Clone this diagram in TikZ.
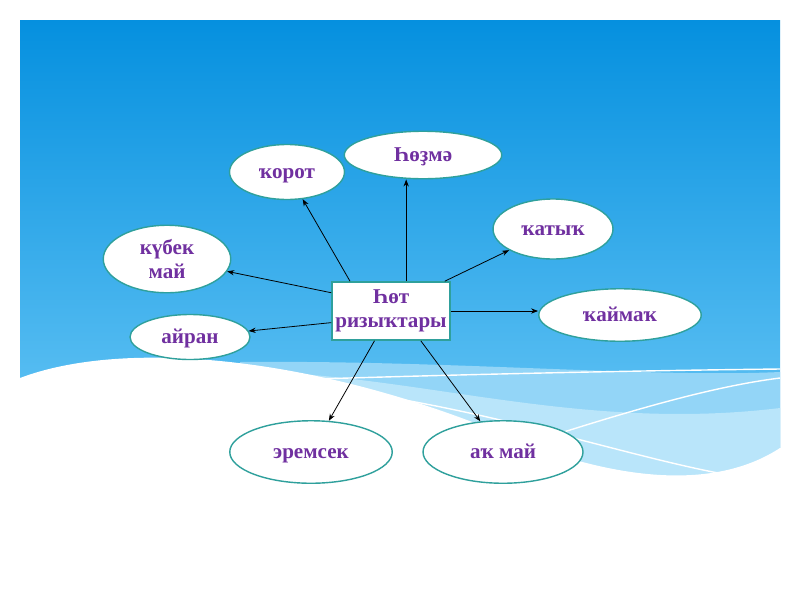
\documentclass[tikz,border=0pt]{standalone}
\usepackage{fontspec}
\setmainfont{Liberation Serif}
\usetikzlibrary{arrows.meta, shapes.geometric}

\definecolor{textpurple}{HTML}{7030A0}
\definecolor{rimteal}{HTML}{2FA09C}
\definecolor{skytop}{HTML}{0590DF}
\definecolor{skylow}{HTML}{6ECAF7}
\definecolor{wavelight}{HTML}{93D5F7}
\definecolor{wavepale}{HTML}{B9E5FA}

\begin{document}
\begin{tikzpicture}[x=0.02cm, y=0.02cm,
    item/.style={ellipse, draw=rimteal, line width=0.8pt, fill=white,
      text=textpurple, font=\fontsize{12}{14}\selectfont\bfseries, align=center, inner sep=0pt},
    word/.style={item, text height=1.8ex, text depth=0.2ex},
    centre/.style={rectangle, draw=rimteal, line width=0.9pt, fill=white,
      text=textpurple, font=\fontsize{12}{14}\selectfont\bfseries, align=center,
      inner xsep=1pt, minimum width=2.36cm, minimum height=1.16cm},
    link/.style={-{Stealth[length=4pt, width=3pt]}, line width=0.45pt, black}]

      % background
      \useasboundingbox (0,0) rectangle (800,600);
      \fill[white] (0,0) rectangle (800,600);
      \shade[top color=skytop, bottom color=skylow] (20,580) rectangle (780,110);
      \fill[wavelight] (240,238) .. controls (450,240) and (650,222) .. (780,228) -- (780,110) -- (240,110) -- cycle;
      \fill[wavepale] (300,226) .. controls (450,215) and (600,170) .. (780,192) -- (780,110) -- (300,110) -- cycle;
      \draw[white, line width=0.8pt] (256,219) .. controls (400,224) and (600,229) .. (780,231);
      \draw[white, line width=0.8pt] (256,219) .. controls (450,205) and (600,150) .. (718,127);
      \draw[white, line width=0.8pt] (492,145) .. controls (600,180) and (700,212) .. (780,222);
      \fill[white] (20,222) .. controls (120,260) and (300,245) .. (480,175) .. controls (580,130) and (700,100) .. (780,152) -- (802,152) -- (802,0) -- (20,0) -- cycle;

      % nodes
      \node[centre] (c) at (391,289) {Һөт\\ризыҡтары};
      \node[word, minimum width=2.3cm, minimum height=1.1cm] (korot) at (287,428) {ҡорот};
      \node[word, minimum width=3.15cm, minimum height=0.95cm] (hozma) at (423,445) {Һөҙмә};
      \node[word, minimum width=2.4cm, minimum height=1.2cm] (katyk) at (553,371) {ҡатыҡ};
      \node[item, minimum width=2.55cm, minimum height=1.35cm] (kubek) at (167,341) {күбек\\май};
      \node[word, minimum width=3.25cm, minimum height=1.05cm] (kaymak) at (620,285) {ҡаймаҡ};
      \node[word, minimum width=2.4cm, minimum height=0.9cm] (ayran) at (190,263) {айран};
      \node[word, minimum width=3.25cm, minimum height=1.25cm] (eremsek) at (311,148) {эремсек};
      \node[word, minimum width=3.2cm, minimum height=1.25cm] (akmay) at (503,148) {аҡ май};

      \draw[link] (c.144) -- (korot);
      \draw[link] (c.63) -- (c.63 |- hozma.south);
      \draw[link] (c.29) -- (katyk);
      \draw[link] (c.163) -- (kubek);
      \draw[link] (c.east) -- (c.east -| kaymak.west);
      \draw[link] (c.191) -- (ayran);
      \draw[link] (c.241) -- (eremsek);
      \draw[link] (c.315) -- (akmay);
    \end{tikzpicture}
\end{document}
